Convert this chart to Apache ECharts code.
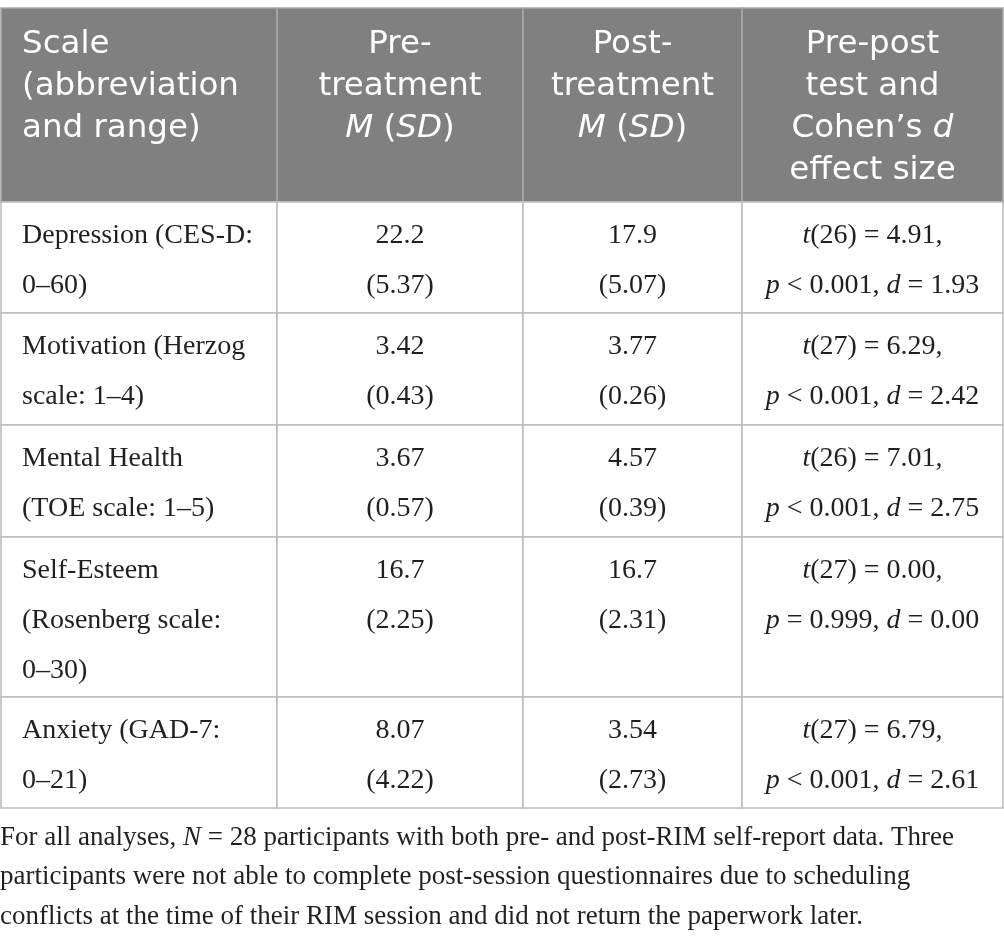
<!DOCTYPE html>
<html>
<head>
<meta charset="utf-8">
<script src="https://cdn.jsdelivr.net/npm/echarts@6.0.0/dist/echarts.min.js"></script>
<style>
  html, body { margin: 0; padding: 0; background: #fff; }
  #main { width: 1004px; height: 940px; }
</style>
</head>
<body>
<div id="main"></div>
<script>
// table content
const headers = [
  'Scale\n(abbreviation\nand range)',
  'Pre-\ntreatment\n{i|M} ({i|SD})',
  'Post-\ntreatment\n{i|M} ({i|SD})',
  'Pre-post\ntest and\nCohen’s {i|d}\neffect size',
];
const scaleLabels = [
  'Depression (CES-D:\n0–60)',
  'Motivation (Herzog\nscale: 1–4)',
  'Mental Health\n(TOE scale: 1–5)',
  'Self-Esteem\n(Rosenberg scale:\n0–30)',
  'Anxiety (GAD-7:\n0–21)',
];
const preMean = ['22.2', '3.42', '3.67', '16.7', '8.07'];
const preSD = ['5.37', '0.43', '0.57', '2.25', '4.22'];
const postMean = ['17.9', '3.77', '4.57', '16.7', '3.54'];
const postSD = ['5.07', '0.26', '0.39', '2.31', '2.73'];
const tDf = [26, 27, 26, 27, 27];
const tValue = ['4.91', '6.29', '7.01', '0.00', '6.79'];
const pValue = ['< 0.001', '< 0.001', '< 0.001', '= 0.999', '< 0.001'];
const dValue = ['1.93', '2.42', '2.75', '0.00', '2.61'];
const footnote = [
  'For all analyses, {i|N} = 28 participants with both pre- and post-RIM self-report data. Three',
  'participants were not able to complete post-session questionnaires due to scheduling',
  'conflicts at the time of their RIM session and did not return the paperwork later.',
];

// layout (axis units = px)
const colEdges = [1, 277, 523, 742, 1003];
const rowEdges = [8, 202, 313, 425, 537, 697, 808];

const SERIF = '"Liberation Serif", "Times New Roman", serif';
const SANS = '"DejaVu Sans", "Noto Sans", sans-serif';
const INK = '#231f20';

const cellText = (col, row) => {
  if (row === 0) return headers[col];
  const i = row - 1;
  if (col === 0) return scaleLabels[i];
  if (col === 1) return `${preMean[i]}\n(${preSD[i]})`;
  if (col === 2) return `${postMean[i]}\n(${postSD[i]})`;
  return `{i|t}(${tDf[i]}) = ${tValue[i]},\n{i|p} ${pValue[i]}, {i|d} = ${dValue[i]}`;
};

const cells = [];
for (let r = 0; r < rowEdges.length - 1; r += 1) {
  for (let c = 0; c < colEdges.length - 1; c += 1) {
    cells.push([c, r]);
  }
}

const renderCell = (params, api) => {
  const col = api.value(0);
  const row = api.value(1);
  const p0 = api.coord([colEdges[col], rowEdges[row]]);
  const p1 = api.coord([colEdges[col + 1], rowEdges[row + 1]]);
  const isHead = row === 0;
  const fontSize = isHead ? 32.5 : 28;
  const lineHeight = isHead ? 42 : 50;
  const family = isHead ? SANS : SERIF;
  const color = isHead ? '#ffffff' : INK;
  return {
    type: 'group',
    children: [{
      type: 'rect',
      shape: { x: p0[0], y: p0[1], width: p1[0] - p0[0], height: p1[1] - p0[1] },
      style: {
        fill: isHead ? '#808080' : '#ffffff',
        stroke: isHead ? '#a8a8a8' : '#bdbdbd',
        lineWidth: 1.6,
      },
    }, {
      type: 'text',
      style: {
        text: cellText(col, row),
        x: col === 0 ? p0[0] + 21 : (p0[0] + p1[0]) / 2,
        y: p0[1] + (isHead ? 16 : 9),
        align: col === 0 ? 'left' : 'center',
        verticalAlign: 'top',
        fontSize,
        fontFamily: family,
        lineHeight,
        fill: color,
        rich: {
          i: { fontStyle: 'italic', fontSize, fontFamily: family, lineHeight, fill: color },
        },
      },
    }],
  };
};

const myChart = echarts.init(document.getElementById('main'));
myChart.setOption({
  animation: false,
  backgroundColor: '#ffffff',
  title: {
    text: footnote.join('\n'),
    left: 0,
    top: 818,
    padding: 0,
    textStyle: {
      fontFamily: SERIF,
      fontSize: 27,
      fontWeight: 'normal',
      lineHeight: 39.5,
      color: INK,
      rich: {
        i: { fontStyle: 'italic', fontFamily: SERIF, fontSize: 27, lineHeight: 39.5, color: INK },
      },
    },
  },
  grid: { left: 0, top: 0, right: 0, bottom: 0 },
  xAxis: { type: 'value', min: 0, max: 1004, show: false },
  yAxis: { type: 'value', min: 0, max: 940, inverse: true, show: false },
  series: [{
    type: 'custom',
    renderItem: renderCell,
    data: cells,
    silent: true,
  }],
});
</script>
</body>
</html>
